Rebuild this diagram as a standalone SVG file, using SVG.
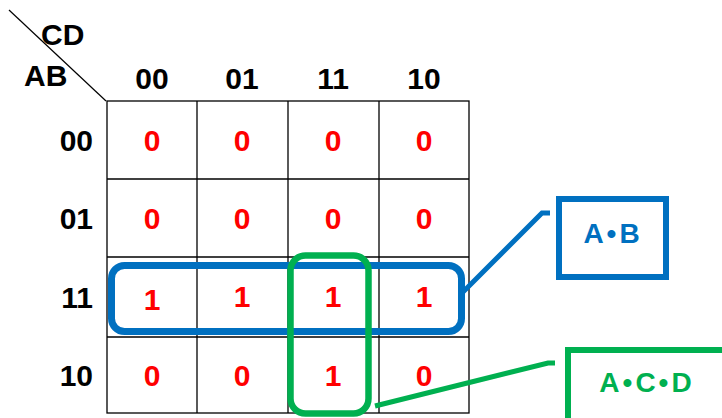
<svg xmlns="http://www.w3.org/2000/svg" width="722" height="418" viewBox="0 0 722 418">
  <style>
    .lbl { font-family: "Liberation Sans", Arial, sans-serif; font-weight: bold; font-size: 30px; fill: #000; }
    .val { font-family: "Liberation Sans", Arial, sans-serif; font-weight: bold; font-size: 30px; fill: #FF0000; text-anchor: middle; }
    .grid { fill: none; stroke: #000; stroke-width: 1.3; }
    .term { font-family: "Liberation Sans", Arial, sans-serif; font-weight: bold; font-size: 28px; text-anchor: middle; }
  </style>
  <rect width="722" height="418" fill="#fff"/>

  <!-- corner header -->
  <g id="corner">
    <line x1="9" y1="10" x2="106" y2="101" stroke="#000" stroke-width="1.2"/>
    <text class="lbl" x="41" y="45">CD</text>
    <text class="lbl" x="24" y="86">AB</text>
  </g>

  <!-- column headers -->
  <g id="col-headers">
    <text class="lbl" x="152" y="89" text-anchor="middle">00</text>
    <text class="lbl" x="242" y="89" text-anchor="middle">01</text>
    <text class="lbl" x="333" y="89" text-anchor="middle">11</text>
    <text class="lbl" x="424" y="89" text-anchor="middle">10</text>
  </g>

  <!-- row headers -->
  <g id="row-headers">
    <text class="lbl" x="93" y="151" text-anchor="end">00</text>
    <text class="lbl" x="93" y="229" text-anchor="end">01</text>
    <text class="lbl" x="93" y="308" text-anchor="end">11</text>
    <text class="lbl" x="93" y="386" text-anchor="end">10</text>
  </g>

  <!-- map grid -->
  <g id="grid" class="grid">
    <rect x="107" y="101" width="362" height="312"/>
    <line x1="197" y1="101" x2="197" y2="413"/>
    <line x1="288" y1="101" x2="288" y2="413"/>
    <line x1="379" y1="101" x2="379" y2="413"/>
    <line x1="107" y1="179" x2="469" y2="179"/>
    <line x1="107" y1="257" x2="469" y2="257"/>
    <line x1="107" y1="337" x2="469" y2="337"/>
  </g>

  <!-- cell values -->
  <g id="cells">
    <text class="val" x="152" y="151">0</text>
    <text class="val" x="242" y="151">0</text>
    <text class="val" x="333" y="151">0</text>
    <text class="val" x="424" y="151">0</text>
    <text class="val" x="152" y="229">0</text>
    <text class="val" x="242" y="229">0</text>
    <text class="val" x="333" y="229">0</text>
    <text class="val" x="424" y="229">0</text>
    <text class="val" x="152" y="310">1</text>
    <text class="val" x="242" y="307">1</text>
    <text class="val" x="333" y="307">1</text>
    <text class="val" x="424" y="307">1</text>
    <text class="val" x="152" y="386">0</text>
    <text class="val" x="242" y="386">0</text>
    <text class="val" x="333" y="386">1</text>
    <text class="val" x="424" y="386">0</text>
  </g>

  <!-- groupings -->
  <g id="group-ab">
    <rect x="111.5" y="265.5" width="350" height="66" rx="13" fill="none" stroke="#0070C0" stroke-width="7"/>
  </g>
  <g id="group-acd">
    <rect x="290.5" y="255.5" width="78" height="158" rx="15" fill="none" stroke="#00B050" stroke-width="6.5"/>
  </g>

  <!-- connectors -->
  <g id="connectors" fill="none" stroke-width="5">
    <polyline points="463,292 542,213 550,213" stroke="#0070C0"/>
    <polyline points="375,406 548,363 555,363" stroke="#00B050"/>
  </g>

  <!-- term boxes -->
  <g id="term-ab">
    <rect x="559" y="199" width="107" height="78" fill="#fff" stroke="#0070C0" stroke-width="6"/>
    <text class="term" x="613" y="243" fill="#0070C0" letter-spacing="3">A•B</text>
  </g>
  <g id="term-acd">
    <rect x="568" y="350" width="160" height="72" fill="#fff" stroke="#00B050" stroke-width="6"/>
    <text class="term" x="647" y="392" fill="#00B050" letter-spacing="3">A•C•D</text>
  </g>
</svg>
